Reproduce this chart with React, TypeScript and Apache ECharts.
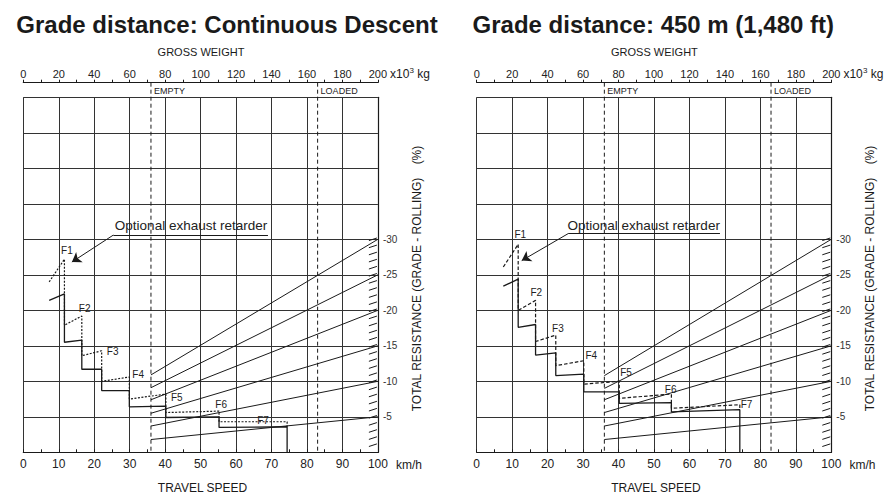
import React, { useEffect, useRef } from 'react';
import * as echarts from 'echarts';

// ---------- data ----------
const weightMarks = [72, 166]; // x10^3 kg
const weightMarkNames = ['EMPTY', 'LOADED'];
const diagEnd = [-30, -25, -20, -15, -10, -5]; // resistance at 200 t
const diagStartLeft = [-10.9, -9.1, -7.4, -5.5, -3.7, -1.8]; // at empty weight
const diagStartRight = [-10.8, -9.0, -7.4, -5.6, -3.7, -1.8];
const hatchTicks = [-1, -2, -3, -4, -5, -6, -7, -8, -9, -10, -11, -12, -13, -14, -15, -16, -17, -18, -19, -20, -21, -22, -23, -24, -25, -26, -27, -28, -29, -30];

const leftStandard = [[7.3, -21.4], [11.6, -22.3], [11.6, -15.5], [16.5, -15.8], [16.5, -11.7], [22.1, -11.7], [22.1, -8.7], [29.9, -8.7], [29.9, -6.4], [40.2, -6.5], [40.2, -4.9], [55.2, -5.0], [55.2, -3.5], [74.4, -3.6], [74.4, 0]];
const leftOptional = [[7.3, -24.0], [11.6, -27.2], [11.6, -17.9], [16.5, -19.2], [16.5, -13.6], [22.1, -14.3], [22.1, -10.0], [29.9, -10.6], [29.9, -7.5], [40.2, -8.2], [40.2, -5.6], [55.2, -5.8], [55.2, -4.3], [74.4, -4.3], [74.4, -3.6]];
const rightStandard = [[7.5, -23.4], [11.7, -24.4], [11.7, -17.6], [16.6, -18.0], [16.6, -13.7], [22.3, -14.0], [22.3, -10.8], [30.2, -11.0], [30.2, -8.5], [40.2, -8.5], [40.2, -6.9], [54.9, -7.0], [54.9, -5.7], [74.2, -6.0], [74.2, 0]];
const rightOptional = [[7.5, -26.1], [11.7, -29.3], [11.7, -20.0], [16.6, -21.4], [16.6, -15.6], [22.3, -16.5], [22.3, -12.2], [30.2, -12.9], [30.2, -9.6], [40.2, -10.0], [40.2, -7.6], [54.9, -8.2], [54.9, -6.2], [74.2, -6.7], [74.2, -6.0]];

const leftGearLabels = [['F1', 12.3, -28.4], ['F2', 17.3, -20.2], ['F3', 25.2, -14.2], ['F4', 32.4, -10.9], ['F5', 43.3, -7.7], ['F6', 55.8, -6.7], ['F7', 67.6, -4.5]];
const rightGearLabels = [['F1', 12.3, -30.7], ['F2', 16.8, -22.5], ['F3', 22.9, -17.5], ['F4', 32.3, -13.6], ['F5', 42.1, -11.3], ['F6', 54.7, -8.9], ['F7', 76.1, -6.7]];

const leftUnderline = [[69.0, -30.6], [25.4, -30.6]];
const leftArrow = [[25.4, -30.6], [13.7, -26.8]];
const rightUnderline = [[68.6, -30.8], [25.8, -30.8]];
const rightArrow = [[25.8, -30.8], [12.7, -27.0]];
const annotationText = 'Optional exhaust retarder';
const leftAnnotationPos = [47.3, -31.9];
const rightAnnotationPos = [47.1, -31.9];

const titles = ['Grade distance: Continuous Descent', 'Grade distance: 450 m (1,480 ft)'];

// ---------- layout ----------
const FF = '"Liberation Sans", Arial, Helvetica, sans-serif';
const GRID_TOP = 97.3;
const GRID_H = 355;
const GRID_W = 354.6;
const PANEL_LEFT = [23.3, 476.7];
const TOP_AXIS_OFFSET = 14.6;
const INK = '#1a1a1a';

function textSeries(xAxisIndex: number, yAxisIndex: number, items: any[], fontSize: number) {
  return {
    type: 'custom', xAxisIndex, yAxisIndex, silent: true, clip: false,
    data: items.map((it) => [it[1], it[2]]),
    renderItem: (params: any, api: any) => {
      const pt = api.coord([api.value(0), api.value(1)]);
      return {
        type: 'text', x: pt[0], y: pt[1],
        style: { text: items[params.dataIndex][0], font: `${fontSize}px ${FF}`, fill: '#222', textAlign: 'center', textVerticalAlign: 'middle', align: 'center', verticalAlign: 'middle' },
      };
    },
  };
}

function buildPanel(p: number, standard: number[][], optional: number[][], diagStart: number[], gear: any[], underline: number[][], arrow: number[][], annPos: number[]) {
  const xS = 2 * p;
  const xW = 2 * p + 1;
  const y = p;
  const series: any[] = [];
  series.push({
    type: 'lines', coordinateSystem: 'cartesian2d', xAxisIndex: xW, yAxisIndex: y, silent: true,
    data: diagEnd.map((e, k) => ({ coords: [[weightMarks[0], diagStart[k]], [200, e]] })),
    lineStyle: { color: INK, width: 1, opacity: 1 },
  });
  series.push({
    type: 'line', xAxisIndex: xS, yAxisIndex: y, data: standard, symbol: 'none', silent: true,
    lineStyle: { color: INK, width: 1.3 },
  });
  series.push({
    type: 'line', xAxisIndex: xS, yAxisIndex: y, data: optional, symbol: 'none', silent: true,
    lineStyle: { color: INK, width: 1.2, type: p === 0 ? [2, 1.5] : [3.5, 2] },
  });
  series.push({
    type: 'lines', coordinateSystem: 'cartesian2d', xAxisIndex: xS, yAxisIndex: y, silent: true,
    data: [{ coords: underline }],
    lineStyle: { color: INK, width: 1, opacity: 1 },
  });
  series.push({
    type: 'lines', coordinateSystem: 'cartesian2d', xAxisIndex: xS, yAxisIndex: y, silent: true,
    data: [{ coords: arrow }],
    symbol: ['none', 'arrow'], symbolSize: 9,
    itemStyle: { color: INK },
    lineStyle: { color: INK, width: 1, opacity: 1 },
  });
  series.push(textSeries(xS, y, gear, 10));
  series.push(textSeries(xS, y, [[annotationText, annPos[0], annPos[1]]], 13.5));
  series.push({
    type: 'custom', xAxisIndex: xS, yAxisIndex: y, silent: true, clip: false,
    data: hatchTicks.map((v) => [100, v]),
    renderItem: (params: any, api: any) => {
      const pt = api.coord([api.value(0), api.value(1)]);
      return {
        type: 'line',
        shape: { x1: pt[0] - 9, y1: pt[1] + 1.3, x2: pt[0] - 1, y2: pt[1] - 1.3 },
        style: { stroke: INK, lineWidth: 1 },
      };
    },
  });
  series.push({
    type: 'custom', xAxisIndex: xW, yAxisIndex: y, silent: true, clip: false,
    data: weightMarks.map((w) => [w, 0]),
    renderItem: (params: any, api: any) => {
      const w = api.value(0);
      const bottom = api.coord([w, 0]);
      const top = api.coord([w, -50]);
      const yTop = top[1] - TOP_AXIS_OFFSET;
      return {
        type: 'group',
        children: [
          { type: 'line', shape: { x1: bottom[0], y1: yTop, x2: bottom[0], y2: bottom[1] }, style: { stroke: INK, lineWidth: 1, lineDash: [4, 3] } },
          { type: 'text', x: bottom[0] + 3, y: yTop + 8, style: { text: weightMarkNames[params.dataIndex], font: `9px ${FF}`, fill: '#222', textAlign: 'left', textVerticalAlign: 'middle', align: 'left', verticalAlign: 'middle' } },
        ],
      };
    },
  });
  return series;
}

function txt(text: string, x: number, y: number, font: string, extra: any = {}) {
  const { align, ...rest } = extra;
  return {
    type: 'text', x, y, silent: true, ...rest,
    style: { text, font, fill: '#1a1a1a', textAlign: align || 'center', textVerticalAlign: 'middle', align: align || 'center', verticalAlign: 'middle' },
  };
}

export default function App() {
  const ref = useRef<HTMLDivElement>(null);
  useEffect(() => {
    if (!ref.current) return;
    const chart = echarts.init(ref.current, null, { renderer: 'svg' });
    const grids = PANEL_LEFT.map((l) => ({ left: l, top: GRID_TOP, width: GRID_W, height: GRID_H, containLabel: false }));
    const xAxes: any[] = [];
    const yAxes: any[] = [];
    PANEL_LEFT.forEach((_, i) => {
      xAxes.push({
        type: 'value', gridIndex: i, position: 'bottom', min: 0, max: 100, interval: 10,
        axisLine: { show: true, onZero: false, lineStyle: { color: INK, width: 1.2 } },
        axisTick: { show: true, inside: true, length: 3, lineStyle: { color: INK } },
        minorTick: { show: true, splitNumber: 2, length: 3, lineStyle: { color: INK } },
        axisLabel: { margin: 6, fontSize: 12, fontFamily: FF, color: '#222' },
        splitLine: { show: true, lineStyle: { color: '#333', width: 1 } },
      });
      xAxes.push({
        type: 'value', gridIndex: i, position: 'top', offset: TOP_AXIS_OFFSET, min: 0, max: 200, interval: 20,
        axisLine: { show: true, onZero: false, lineStyle: { color: INK, width: 1.2 } },
        axisTick: { show: true, inside: false, length: 3, lineStyle: { color: INK } },
        minorTick: { show: true, splitNumber: 2, length: 3, lineStyle: { color: INK } },
        axisLabel: { margin: 3, fontSize: 11, fontFamily: FF, color: '#222' },
        splitLine: { show: false },
      });
      yAxes.push({
        type: 'value', gridIndex: i, position: 'right', min: -50, max: 0, interval: 5, inverse: true,
        axisLine: { show: true, onZero: false, lineStyle: { color: INK, width: 1.2 } },
        axisTick: { show: false },
        axisLabel: { margin: 5, fontSize: 10, fontFamily: FF, color: '#333', formatter: (v: number) => (v <= -5 && v >= -30 ? String(v) : '') },
        splitLine: { show: true, lineStyle: { color: '#333', width: 1 } },
      });
    });

    const series = [
      ...buildPanel(0, leftStandard, leftOptional, diagStartLeft, leftGearLabels, leftUnderline, leftArrow, leftAnnotationPos),
      ...buildPanel(1, rightStandard, rightOptional, diagStartRight, rightGearLabels, rightUnderline, rightArrow, rightAnnotationPos),
    ];

    const graphics: any[] = [];
    PANEL_LEFT.forEach((l, i) => {
      const dx = l - PANEL_LEFT[0];
      graphics.push(txt(titles[i], i === 0 ? 227 : 653.3, 24, `bold 24px ${FF}`));
      graphics.push(txt('GROSS WEIGHT', 201 + dx, 51.5, `11px ${FF}`));
      graphics.push(txt('TRAVEL SPEED', 202.5 + dx, 487.6, `12px ${FF}`));
      graphics.push(txt('km/h', 396 + dx, 465.3, `12px ${FF}`, { align: 'left' }));
      graphics.push(txt('x10', 390 + dx, 74.3, `12px ${FF}`, { align: 'left' }));
      graphics.push(txt('3', 409.5 + dx, 70, `8px ${FF}`, { align: 'left' }));
      graphics.push(txt(' kg', 414 + dx, 74.3, `12px ${FF}`, { align: 'left' }));
      graphics.push(txt('TOTAL RESISTANCE (GRADE - ROLLING)    (%)', 416.5 + dx, 278.5, `12px ${FF}`, { rotation: Math.PI / 2 }));
    });

    chart.setOption({
      animation: false,
      backgroundColor: '#ffffff',
      grid: grids,
      xAxis: xAxes,
      yAxis: yAxes,
      series,
      graphic: graphics,
    });
    return () => chart.dispose();
  }, []);
  return <div ref={ref} style={{ position: 'absolute', left: 0, top: 0, width: 896, height: 492, background: '#fff' }} />;
}
